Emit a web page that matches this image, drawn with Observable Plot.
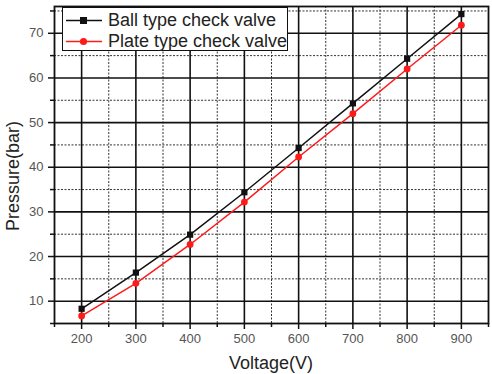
<!DOCTYPE html>
<html>
<head>
<meta charset="utf-8">
<script src="https://cdn.jsdelivr.net/npm/d3@7"></script>
<script src="https://cdn.jsdelivr.net/npm/@observablehq/plot@0.6"></script>
<style>
  html, body { margin: 0; padding: 0; background: #fff; }
  #wrap { position: relative; width: 492px; height: 374px; font-family: "Liberation Sans", Arial, sans-serif; }
  #legend { position: absolute; left: 62px; top: 7px; width: 226px; height: 44px; background: #fff; border: 1.5px solid #111; box-sizing: border-box; }
  #legend .row { position: absolute; left: 0; height: 22px; display: flex; align-items: center; font-size: 18px; color: #222; white-space: nowrap; }
  #legend svg { display: block; margin-left: 3px; margin-right: 6px; }
</style>
</head>
<body>
<div id="wrap"><div id="chart"></div><div id="legend"></div></div>
<script>
const voltage = [200, 300, 400, 500, 600, 700, 800, 900];
const ball = [8.3, 16.4, 24.9, 34.4, 44.3, 54.3, 64.3, 74.3];
const plate = [6.7, 14.0, 22.7, 32.2, 42.3, 52.0, 62.0, 71.8];
const seriesNames = ["Ball type check valve", "Plate type check valve"];
const seriesColors = ["#111111", "#ff1a1a"];
const xMajor = [200, 300, 400, 500, 600, 700, 800, 900];
const xMinor = [150, 250, 350, 450, 550, 650, 750, 850, 950];
const yMajor = [10, 20, 30, 40, 50, 60, 70];
const yMinor = [5, 15, 25, 35, 45, 55, 65, 75];
const xLabel = "Voltage(V)";
const yLabel = "Pressure(bar)";

const data = [];
voltage.forEach((v, i) => {
  data.push({series: seriesNames[0], v, p: ball[i]});
  data.push({series: seriesNames[1], v, p: plate[i]});
});
const ballData = data.filter(d => d.series === seriesNames[0]);
const plateData = data.filter(d => d.series === seriesNames[1]);

const W = 492, H = 374, mL = 54, mR = 4, mT = 6, mB = 51;

const chart = Plot.plot({
  width: W,
  height: H,
  marginLeft: mL,
  marginRight: mR,
  marginTop: mT,
  marginBottom: mB,
  style: {fontFamily: "'Liberation Sans', Arial, sans-serif", fontSize: "13px", background: "#fff"},
  x: {domain: [150, 950]},
  y: {domain: [5, 76]},
  marks: [
    Plot.ruleX(xMinor, {stroke: "#333", strokeWidth: 1, strokeDasharray: "2,1.5"}),
    Plot.ruleY(yMinor, {stroke: "#333", strokeWidth: 1, strokeDasharray: "2,1.5"}),
    Plot.ruleX(xMajor, {stroke: "#111", strokeWidth: 1.6}),
    Plot.ruleY(yMajor, {stroke: "#111", strokeWidth: 1.6}),
    Plot.line(ballData, {x: "v", y: "p", stroke: seriesColors[0], strokeWidth: 1.5}),
    Plot.line(plateData, {x: "v", y: "p", stroke: seriesColors[1], strokeWidth: 1.5}),
    Plot.dot(ballData, {x: "v", y: "p", symbol: "square", r: 3.5, fill: seriesColors[0], stroke: null}),
    Plot.dot(plateData, {x: "v", y: "p", symbol: "circle", r: 3.4, fill: seriesColors[1], stroke: null}),
    Plot.frame({stroke: "#111", strokeWidth: 1.8}),
    Plot.axisX({ticks: xMajor, tickSize: 6, tickPadding: 4, tickFormat: d => String(d), label: null, fill: "#555", stroke: "#111", strokeWidth: 1.5}),
    Plot.axisX({ticks: xMinor, tickSize: 4, tickFormat: null, text: null, label: null, stroke: "#111", strokeWidth: 1.5}),
    Plot.axisY({ticks: yMajor, tickSize: 6, tickPadding: 5, tickFormat: d => String(d), label: null, fill: "#555", stroke: "#111", strokeWidth: 1.5}),
    Plot.axisY({ticks: yMinor, tickSize: 4, tickFormat: null, text: null, label: null, stroke: "#111", strokeWidth: 1.5})
  ]
});
document.getElementById("chart").appendChild(chart);

// axis titles
const svg = d3.select(chart);
const frameCx = mL + (W - mL - mR) / 2;
svg.append("text")
  .attr("transform", `translate(${frameCx},362.5)`)
  .attr("text-anchor", "middle")
  .attr("dy", "0.35em")
  .attr("font-size", 18)
  .attr("fill", "#222")
  .text(xLabel);
svg.append("text")
  .attr("transform", `translate(12.5,176) rotate(-90)`)
  .attr("text-anchor", "middle")
  .attr("dy", "0.35em")
  .attr("font-size", 18)
  .attr("fill", "#222")
  .text(yLabel);

const legend = document.getElementById("legend");
seriesNames.forEach((name, i) => {
  const row = document.createElement("div");
  row.className = "row";
  row.style.top = (i === 0 ? 1 : 22) + "px";
  const marker = i === 0
    ? `<rect x="14" y="3" width="7" height="7" fill="${seriesColors[i]}"/>`
    : `<circle cx="17.5" cy="6.5" r="3.6" fill="${seriesColors[i]}"/>`;
  row.innerHTML = `<svg width="36" height="13"><line x1="0" x2="36" y1="6.5" y2="6.5" stroke="${seriesColors[i]}" stroke-width="1.5"/>${marker}</svg><span>${name}</span>`;
  legend.appendChild(row);
});
</script>
</body>
</html>
